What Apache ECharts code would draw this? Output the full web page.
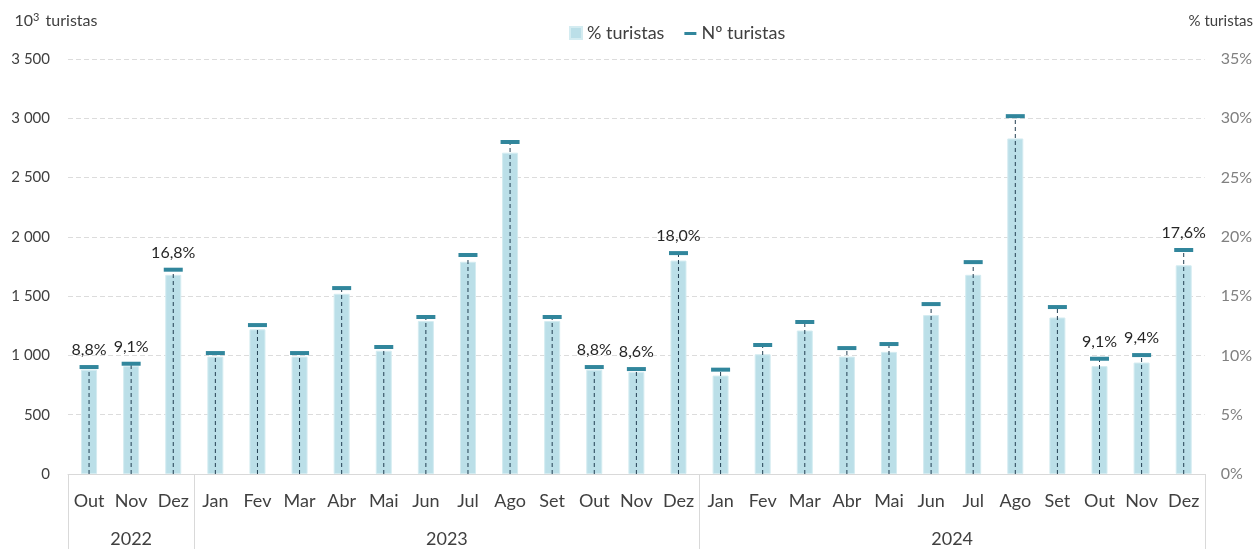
<!DOCTYPE html>
<html>
<head>
<meta charset="UTF-8">
<title>Turistas</title>
<script src="https://cdn.jsdelivr.net/npm/echarts@6/dist/echarts.min.js"></script>
</head>
<body style="margin:0;">
<div id="container" style="width:1256px;height:549px;"></div>
<script type="text/javascript">
var dom = document.getElementById('container');
var myChart = echarts.init(dom);

// meses (Out 2022 .. Dez 2024)
var months = ['Out', 'Nov', 'Dez',
  'Jan', 'Fev', 'Mar', 'Abr', 'Mai', 'Jun', 'Jul', 'Ago', 'Set', 'Out', 'Nov', 'Dez',
  'Jan', 'Fev', 'Mar', 'Abr', 'Mai', 'Jun', 'Jul', 'Ago', 'Set', 'Out', 'Nov', 'Dez'];
var years = ['2022', '2023', '2024'];
var yearSpans = [3, 12, 12];
// % turistas
var pctTuristas = [8.8, 9.1, 16.8,
  9.9, 12.2, 9.9, 15.2, 10.4, 12.9, 17.9, 27.1, 12.9, 8.8, 8.6, 18.0,
  8.3, 10.1, 12.1, 9.9, 10.3, 13.4, 16.8, 28.3, 13.2, 9.1, 9.4, 17.6];
// Nº turistas (milhares)
var numTuristas = [902, 930, 1723,
  1020, 1256, 1020, 1568, 1071, 1324, 1847, 2800, 1324, 902, 885, 1863,
  880, 1088, 1282, 1062, 1096, 1433, 1787, 3018, 1408, 972, 1003, 1889];
// meses com etiqueta
var labelled = [0, 1, 2, 12, 13, 14, 24, 25, 26];

var yearCenters = [];
var yearBounds = [0];
var acc = 0;
yearSpans.forEach(function (s) {
  yearCenters.push(acc + s / 2);
  acc += s;
  yearBounds.push(acc);
});

var font = 'Lato';
var option = {
  textStyle: { fontFamily: font },
  legend: {
    left: 564,
    top: 19,
    itemWidth: 12,
    itemHeight: 12,
    itemGap: 20,
    textStyle: { fontSize: 18, color: '#404040', fontFamily: font },
    data: [
      { name: '% turistas', icon: 'rect' },
      { name: 'Nº turistas', icon: 'path://M0,0M0,5h12v3h-12zM12,12' }
    ]
  },
  grid: { left: 68, right: 50, top: 59, bottom: 75 },
  xAxis: [
    {
      type: 'category',
      data: months,
      axisLine: { lineStyle: { color: '#d9d9d9' } },
      axisTick: { show: false },
      axisLabel: { interval: 0, margin: 18, fontSize: 18, color: '#404040', fontFamily: font }
    },
    {
      type: 'value',
      position: 'bottom',
      min: 0,
      max: acc,
      axisLine: { show: false },
      splitLine: { show: false },
      axisTick: {
        show: true,
        customValues: yearBounds,
        length: 75,
        lineStyle: { color: '#d9d9d9' }
      },
      axisLabel: {
        customValues: yearCenters,
        margin: 56,
        fontSize: 18,
        color: '#404040',
        fontFamily: font,
        formatter: function (v) {
          var k = yearCenters.indexOf(v);
          return k >= 0 ? years[k] : '';
        }
      }
    }
  ],
  yAxis: [
    {
      type: 'value',
      min: 0,
      max: 3500,
      interval: 500,
      name: '{a|10}{s|3}{a| turistas}',
      nameLocation: 'end',
      nameGap: 30,
      nameTextStyle: {
        align: 'center',
        padding: [0, 24, 0, 0],
        rich: {
          a: { fontSize: 16, color: '#404040', fontFamily: font },
          s: { fontSize: 11, color: '#404040', fontFamily: font, verticalAlign: 'top', padding: [0, 2, 6, 0] }
        }
      },
      axisLine: { show: false },
      axisTick: { show: false },
      splitLine: { lineStyle: { color: '#dcdcdc', type: [5, 3] } },
      axisLabel: {
        margin: 18,
        fontSize: 15,
        color: '#404040',
        fontFamily: font,
        formatter: function (v) {
          return String(v).replace(/\B(?=(\d{3})+(?!\d))/g, ' ');
        }
      }
    },
    {
      type: 'value',
      min: 0,
      max: 35,
      interval: 5,
      name: '% turistas',
      nameLocation: 'end',
      nameGap: 30,
      nameTextStyle: { align: 'center', padding: [0, 0, 0, 32], fontSize: 15, color: '#404040', fontFamily: font },
      axisLine: { show: false },
      axisTick: { show: false },
      splitLine: { show: false },
      axisLabel: { margin: 16, fontSize: 16, color: '#808080', fontFamily: font, formatter: '{value}%' }
    }
  ],
  series: [
    {
      name: '% turistas',
      type: 'bar',
      xAxisIndex: 0,
      yAxisIndex: 1,
      barWidth: 16,
      data: pctTuristas,
      itemStyle: { color: '#bbdfe8', borderColor: '#d4ecf1', borderWidth: 1 },
      silent: true,
      z: 2
    },
    {
      name: 'linhas',
      type: 'custom',
      xAxisIndex: 0,
      yAxisIndex: 0,
      data: numTuristas.map(function (v, i) { return [i, v]; }),
      renderItem: function (params, api) {
        var p0 = api.coord([api.value(0), 0]);
        var p1 = api.coord([api.value(0), api.value(1)]);
        return {
          type: 'line',
          shape: { x1: p0[0], y1: p0[1], x2: p1[0], y2: p1[1] },
          style: { stroke: '#233f52', lineWidth: 1, lineDash: [4, 3] }
        };
      },
      silent: true,
      z: 3
    },
    {
      name: 'Nº turistas',
      type: 'scatter',
      xAxisIndex: 0,
      yAxisIndex: 0,
      symbol: 'rect',
      symbolSize: [19, 4],
      itemStyle: { color: '#31869c', opacity: 1 },
      data: numTuristas.map(function (v, i) {
        return { value: v, label: { show: labelled.indexOf(i) >= 0 } };
      }),
      label: {
        position: 'top',
        distance: 7,
        fontSize: 16,
        color: '#262626',
        fontFamily: font,
        formatter: function (p) {
          return pctTuristas[p.dataIndex].toFixed(1).replace('.', ',') + '%';
        }
      },
      z: 4
    }
  ]
};

myChart.setOption(option);
</script>
</body>
</html>
